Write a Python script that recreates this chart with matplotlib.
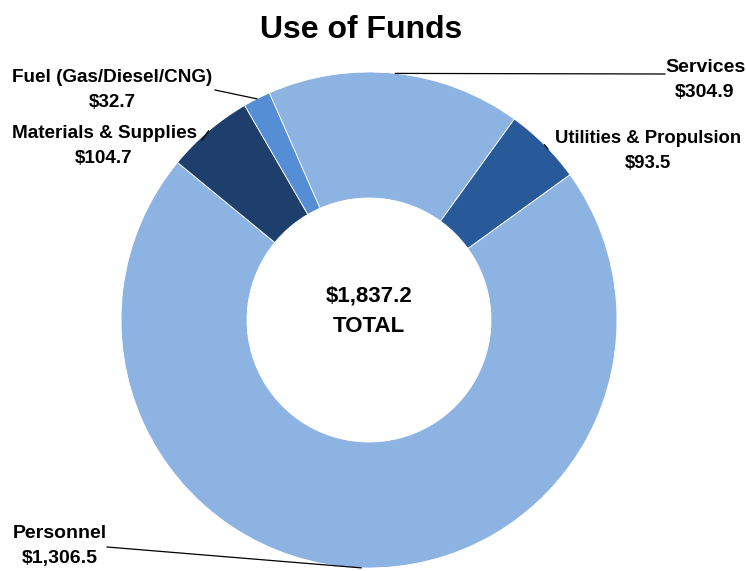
import numpy as np
import matplotlib.pyplot as plt

categories = ["Services", "Utilities & Propulsion", "Personnel", "Materials & Supplies", "Fuel (Gas/Diesel/CNG)"]
values = [304.9, 93.5, 1306.5, 104.7, 32.7]
value_labels = ["$304.9", "$93.5", "$1,306.5", "$104.7", "$32.7"]
colors = ["#8DB3E2", "#285A99", "#8DB3E2", "#1E3F6B", "#558ED5"]
total_label = "$1,837.2"

W, H = 746, 571
cx, cy, R = 369, 320, 248

plt.rcParams['font.family'] = ['Liberation Sans Narrow', 'Liberation Sans', 'DejaVu Sans']

fig = plt.figure(figsize=(W / 100, H / 100), dpi=100)
ax = fig.add_axes([0, 0, 1, 1])
ax.axis('off')

start = 113.7
wedges, _ = ax.pie(values, colors=colors, startangle=start, counterclock=False,
                   center=(cx, H - cy), radius=R,
                   wedgeprops=dict(width=126, edgecolor='white', linewidth=0.6))
ax.set_xlim(0, W)
ax.set_ylim(0, H)

# label text position (pixels from top-left), leader line end, font size
label_pos = [(705, 80), (648, 151), (60, 546), (104, 146), (112, 90)]
line_end = [(665, 74), (548, 149), (107, 547), (202, 140), (215, 90)]
sizes = [14, 13.3, 14, 13.6, 13.6]

for w, name, val, (lx, ly), (ex, ey), fs in zip(wedges, categories, value_labels,
                                                label_pos, line_end, sizes):
    mid = np.deg2rad((w.theta1 + w.theta2) / 2)
    px = cx + R * np.cos(mid)
    py = H - cy + R * np.sin(mid)
    ax.plot([px, ex], [py, H - ey], color='black', lw=0.9)
    ax.text(lx, H - ly, name + "\n" + val, ha='center', va='center',
            fontsize=fs, fontweight='bold', linespacing=1.6)

ax.text(cx, H - 311, total_label + "\nTOTAL", ha='center', va='center',
        fontsize=16, fontweight='bold', linespacing=1.6)

fig.text(361 / W, 1 - 30 / H, "Use of Funds", ha='center', va='center',
         fontsize=23, fontweight='bold')

fig.savefig("out.png", dpi=100)
